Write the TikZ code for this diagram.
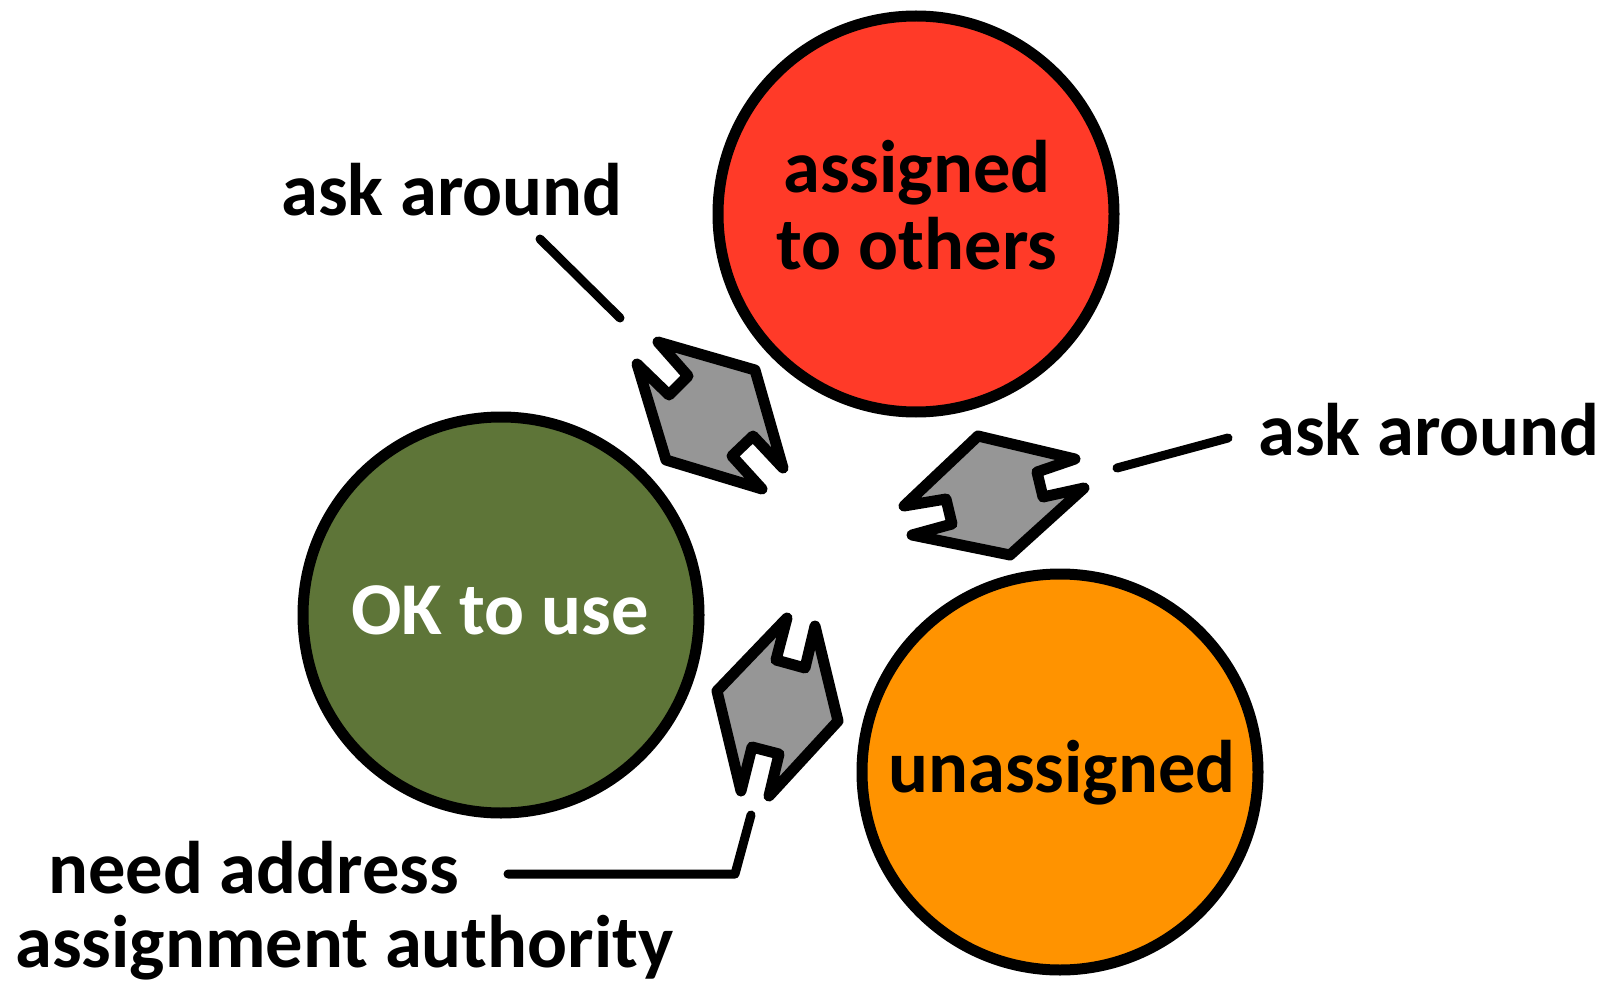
\documentclass[tikz,border=0pt]{standalone}
\usepackage{fontspec}
\setmainfont{Carlito}
\definecolor{cred}{RGB}{255,58,40}
\definecolor{cgreen}{RGB}{94,117,56}
\definecolor{corange}{RGB}{255,147,0}
\definecolor{cgray}{RGB}{150,150,150}
\begin{document}
\begin{tikzpicture}[x=1pt,y=-1pt,
  state/.style={circle,draw=black,line width=11pt,minimum size=396pt,inner sep=0pt},
  txt/.style={inner sep=0pt,font=\fontsize{74.5}{78}\selectfont\bfseries,anchor=base},
  dbl/.style={draw=black,fill=cgray,line width=11pt,line join=round},
  lead/.style={draw=black,line width=9pt,line cap=round,line join=round}]
\useasboundingbox (0,0) rectangle (1614,984);
\fill[white] (0,0) rectangle (1614,984);
% states
\node[state,fill=cred] (red) at (916,214) {};
\node[state,fill=cgreen] (green) at (501,615) {};
\node[state,fill=corange] (orange) at (1060,772) {};
\node[txt] (redt1) at (917,193) {assigned};
\node[txt] (redt2) at (917,270) {to others};
\node[txt,text=white] (greent) at (500,634) {OK to use};
\node[txt] (oranget) at (1062,792) {unassigned};
% double arrows
\draw[dbl] (658,342) -- (755,370) -- (783,468) -- (753,436) -- (732,456) -- (762,489)
  -- (666,460) -- (637,364) -- (669,395) -- (688,376) -- cycle;
\draw[dbl] (978,436) -- (1075,459) -- (1037,472) -- (1043,497) -- (1084,488) -- (1010,555)
  -- (912,535) -- (952,524) -- (946,499) -- (904,506) -- cycle;
\draw[dbl] (787,618) -- (776,660) -- (805,668) -- (815,626) -- (838,721) -- (769,796)
  -- (779,754) -- (752,747) -- (741,791) -- (717,691) -- cycle;
% labels
\node[txt] (lab1) at (452,216) {ask around};
\node[txt] (lab2) at (1429,455) {ask around};
\node[txt,anchor=base west] (lab3a) at (48,893) {need address};
\node[txt,anchor=base west] (lab3b) at (15,967) {assignment authority};
% leader lines
\coordinate (l1a) at (540,239);
\coordinate (l1b) at (620,318);
\coordinate (l2a) at (1117,468);
\coordinate (l2b) at (1228,438);
\coordinate (l3a) at (508,874);
\coordinate (l3m) at (735,874);
\coordinate (l3b) at (751,815);
\draw[lead] (l1a) -- (l1b);
\draw[lead] (l2a) -- (l2b);
\draw[lead] (l3a) -- (l3m) -- (l3b);
\end{tikzpicture}
\end{document}
